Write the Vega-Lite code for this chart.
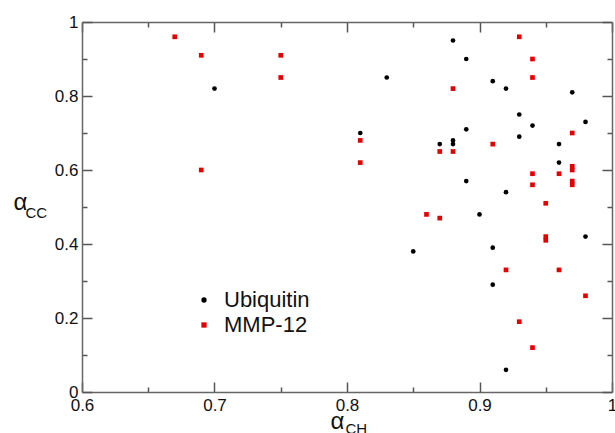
{
  "$schema": "https://vega.github.io/schema/vega-lite/v6.json",
  "autosize": {"type": "none"},
  "width": 530,
  "height": 370,
  "padding": {"left": 82, "top": 22, "right": 3, "bottom": 41},
  "background": "white",
  "config": {"view": {"stroke": null}, "font": "Liberation Sans"},
  "data": {"values": [
    {"protein": "Ubiquitin", "ach": 0.70, "acc": 0.82},
    {"protein": "Ubiquitin", "ach": 0.81, "acc": 0.70},
    {"protein": "Ubiquitin", "ach": 0.83, "acc": 0.85},
    {"protein": "Ubiquitin", "ach": 0.85, "acc": 0.38},
    {"protein": "Ubiquitin", "ach": 0.87, "acc": 0.67},
    {"protein": "Ubiquitin", "ach": 0.88, "acc": 0.95},
    {"protein": "Ubiquitin", "ach": 0.88, "acc": 0.68},
    {"protein": "Ubiquitin", "ach": 0.88, "acc": 0.67},
    {"protein": "Ubiquitin", "ach": 0.89, "acc": 0.90},
    {"protein": "Ubiquitin", "ach": 0.89, "acc": 0.71},
    {"protein": "Ubiquitin", "ach": 0.89, "acc": 0.57},
    {"protein": "Ubiquitin", "ach": 0.90, "acc": 0.48},
    {"protein": "Ubiquitin", "ach": 0.91, "acc": 0.84},
    {"protein": "Ubiquitin", "ach": 0.91, "acc": 0.39},
    {"protein": "Ubiquitin", "ach": 0.91, "acc": 0.29},
    {"protein": "Ubiquitin", "ach": 0.92, "acc": 0.82},
    {"protein": "Ubiquitin", "ach": 0.92, "acc": 0.54},
    {"protein": "Ubiquitin", "ach": 0.92, "acc": 0.06},
    {"protein": "Ubiquitin", "ach": 0.93, "acc": 0.75},
    {"protein": "Ubiquitin", "ach": 0.93, "acc": 0.69},
    {"protein": "Ubiquitin", "ach": 0.94, "acc": 0.72},
    {"protein": "Ubiquitin", "ach": 0.96, "acc": 0.67},
    {"protein": "Ubiquitin", "ach": 0.96, "acc": 0.62},
    {"protein": "Ubiquitin", "ach": 0.97, "acc": 0.81},
    {"protein": "Ubiquitin", "ach": 0.98, "acc": 0.73},
    {"protein": "Ubiquitin", "ach": 0.98, "acc": 0.42},
    {"protein": "MMP-12", "ach": 0.67, "acc": 0.96},
    {"protein": "MMP-12", "ach": 0.69, "acc": 0.91},
    {"protein": "MMP-12", "ach": 0.69, "acc": 0.60},
    {"protein": "MMP-12", "ach": 0.75, "acc": 0.91},
    {"protein": "MMP-12", "ach": 0.75, "acc": 0.85},
    {"protein": "MMP-12", "ach": 0.81, "acc": 0.68},
    {"protein": "MMP-12", "ach": 0.81, "acc": 0.62},
    {"protein": "MMP-12", "ach": 0.86, "acc": 0.48},
    {"protein": "MMP-12", "ach": 0.87, "acc": 0.65},
    {"protein": "MMP-12", "ach": 0.87, "acc": 0.47},
    {"protein": "MMP-12", "ach": 0.88, "acc": 0.82},
    {"protein": "MMP-12", "ach": 0.88, "acc": 0.65},
    {"protein": "MMP-12", "ach": 0.91, "acc": 0.67},
    {"protein": "MMP-12", "ach": 0.92, "acc": 0.33},
    {"protein": "MMP-12", "ach": 0.93, "acc": 0.96},
    {"protein": "MMP-12", "ach": 0.93, "acc": 0.19},
    {"protein": "MMP-12", "ach": 0.94, "acc": 0.90},
    {"protein": "MMP-12", "ach": 0.94, "acc": 0.85},
    {"protein": "MMP-12", "ach": 0.94, "acc": 0.59},
    {"protein": "MMP-12", "ach": 0.94, "acc": 0.56},
    {"protein": "MMP-12", "ach": 0.94, "acc": 0.12},
    {"protein": "MMP-12", "ach": 0.95, "acc": 0.51},
    {"protein": "MMP-12", "ach": 0.95, "acc": 0.42},
    {"protein": "MMP-12", "ach": 0.95, "acc": 0.41},
    {"protein": "MMP-12", "ach": 0.96, "acc": 0.59},
    {"protein": "MMP-12", "ach": 0.96, "acc": 0.33},
    {"protein": "MMP-12", "ach": 0.97, "acc": 0.70},
    {"protein": "MMP-12", "ach": 0.97, "acc": 0.61},
    {"protein": "MMP-12", "ach": 0.97, "acc": 0.60},
    {"protein": "MMP-12", "ach": 0.97, "acc": 0.57},
    {"protein": "MMP-12", "ach": 0.97, "acc": 0.56},
    {"protein": "MMP-12", "ach": 0.98, "acc": 0.26}
  ]},
  "layer": [
    {
      "mark": {"type": "point", "filled": true, "opacity": 1, "size": 22},
      "encoding": {
        "x": {
          "field": "ach", "type": "quantitative",
          "scale": {"domain": [0.6, 1], "nice": false, "zero": false},
          "axis": {
            "orient": "bottom",
            "values": [0.6, 0.65, 0.7, 0.75, 0.8, 0.85, 0.9, 0.95, 1],
            "format": "~g",
            "labelExpr": "abs(round(datum.value*10)-datum.value*10)<0.01 ? datum.label : ''",
            "tickSize": {"condition": {"test": "abs(round(datum.value*10)-datum.value*10)<0.01", "value": -10}, "value": -5},
            "labelPadding": 15,
            "labelFlush": false, "labelOverlap": false, "labelBound": false,
            "labelFontSize": 17, "labelColor": "#111", "labelFont": "Liberation Sans",
            "grid": false,
            "domainColor": "#666", "domainWidth": 1.5, "tickColor": "#555", "tickWidth": 1.5,
            "title": "α", "titleX": 255, "titleY": 36, "titleAlign": "center", "titleBaseline": "alphabetic",
            "titleFontSize": 24, "titleFontWeight": "normal", "titleColor": "#111", "titleFont": "Liberation Sans"
          }
        },
        "y": {
          "field": "acc", "type": "quantitative",
          "scale": {"domain": [0, 1], "nice": false, "zero": false},
          "axis": {
            "orient": "left",
            "values": [0, 0.1, 0.2, 0.3, 0.4, 0.5, 0.6, 0.7, 0.8, 0.9, 1],
            "format": "~g",
            "labelExpr": "abs(round(datum.value*5)-datum.value*5)<0.01 ? datum.label : ''",
            "tickSize": {"condition": {"test": "abs(round(datum.value*5)-datum.value*5)<0.01", "value": -10}, "value": -5},
            "labelPadding": 14,
            "labelFlush": false, "labelOverlap": false, "labelBound": false,
            "labelFontSize": 17, "labelColor": "#111", "labelFont": "Liberation Sans",
            "grid": false,
            "domainColor": "#666", "domainWidth": 1.5, "tickColor": "#555", "tickWidth": 1.5,
            "title": "α", "titleAngle": 0, "titleX": -62, "titleY": 187, "titleAlign": "center", "titleBaseline": "alphabetic",
            "titleFontSize": 24, "titleFontWeight": "normal", "titleColor": "#111", "titleFont": "Liberation Sans"
          }
        },
        "color": {
          "field": "protein", "type": "nominal",
          "scale": {"domain": ["Ubiquitin", "MMP-12"], "range": ["#000000", "#e60000"]},
          "legend": {
            "orient": "none", "legendX": 111, "legendY": 267, "title": null,
            "labelFontSize": 22, "labelFont": "Liberation Sans", "labelColor": "#111",
            "symbolSize": 28, "labelOffset": 9, "rowPadding": 3, "padding": 0,
            "symbolStrokeWidth": 0
          }
        },
        "shape": {
          "field": "protein", "type": "nominal",
          "scale": {"domain": ["Ubiquitin", "MMP-12"], "range": ["circle", "square"]}
        }
      }
    },
    {
      "mark": {"type": "point", "opacity": 0},
      "encoding": {
        "x": {
          "field": "ach", "type": "quantitative",
          "scale": {"domain": [0.6, 1], "nice": false, "zero": false},
          "axis": {
            "orient": "top",
            "values": [0.6, 0.65, 0.7, 0.75, 0.8, 0.85, 0.9, 0.95, 1],
            "labels": false,
            "tickSize": {"condition": {"test": "abs(round(datum.value*10)-datum.value*10)<0.01", "value": -10}, "value": -5},
            "grid": false,
            "domainColor": "#666", "domainWidth": 1.5, "tickColor": "#555", "tickWidth": 1.5,
            "title": "CH", "titleX": 263, "titleY": 411, "titleAlign": "left", "titleBaseline": "alphabetic",
            "titleFontSize": 15, "titleFontWeight": "normal", "titleColor": "#111", "titleFont": "Liberation Sans"
          }
        },
        "y": {
          "field": "acc", "type": "quantitative",
          "scale": {"domain": [0, 1], "nice": false, "zero": false},
          "axis": {
            "orient": "right",
            "values": [0, 0.1, 0.2, 0.3, 0.4, 0.5, 0.6, 0.7, 0.8, 0.9, 1],
            "labels": false,
            "tickSize": {"condition": {"test": "abs(round(datum.value*5)-datum.value*5)<0.01", "value": -10}, "value": -5},
            "grid": false,
            "domainColor": "#666", "domainWidth": 1.5, "tickColor": "#555", "tickWidth": 1.5,
            "title": "CC", "titleAngle": 0, "titleX": -587, "titleY": 195, "titleAlign": "left", "titleBaseline": "alphabetic",
            "titleFontSize": 15, "titleFontWeight": "normal", "titleColor": "#111", "titleFont": "Liberation Sans"
          }
        }
      }
    }
  ],
  "resolve": {"axis": {"x": "independent", "y": "independent"}}
}
